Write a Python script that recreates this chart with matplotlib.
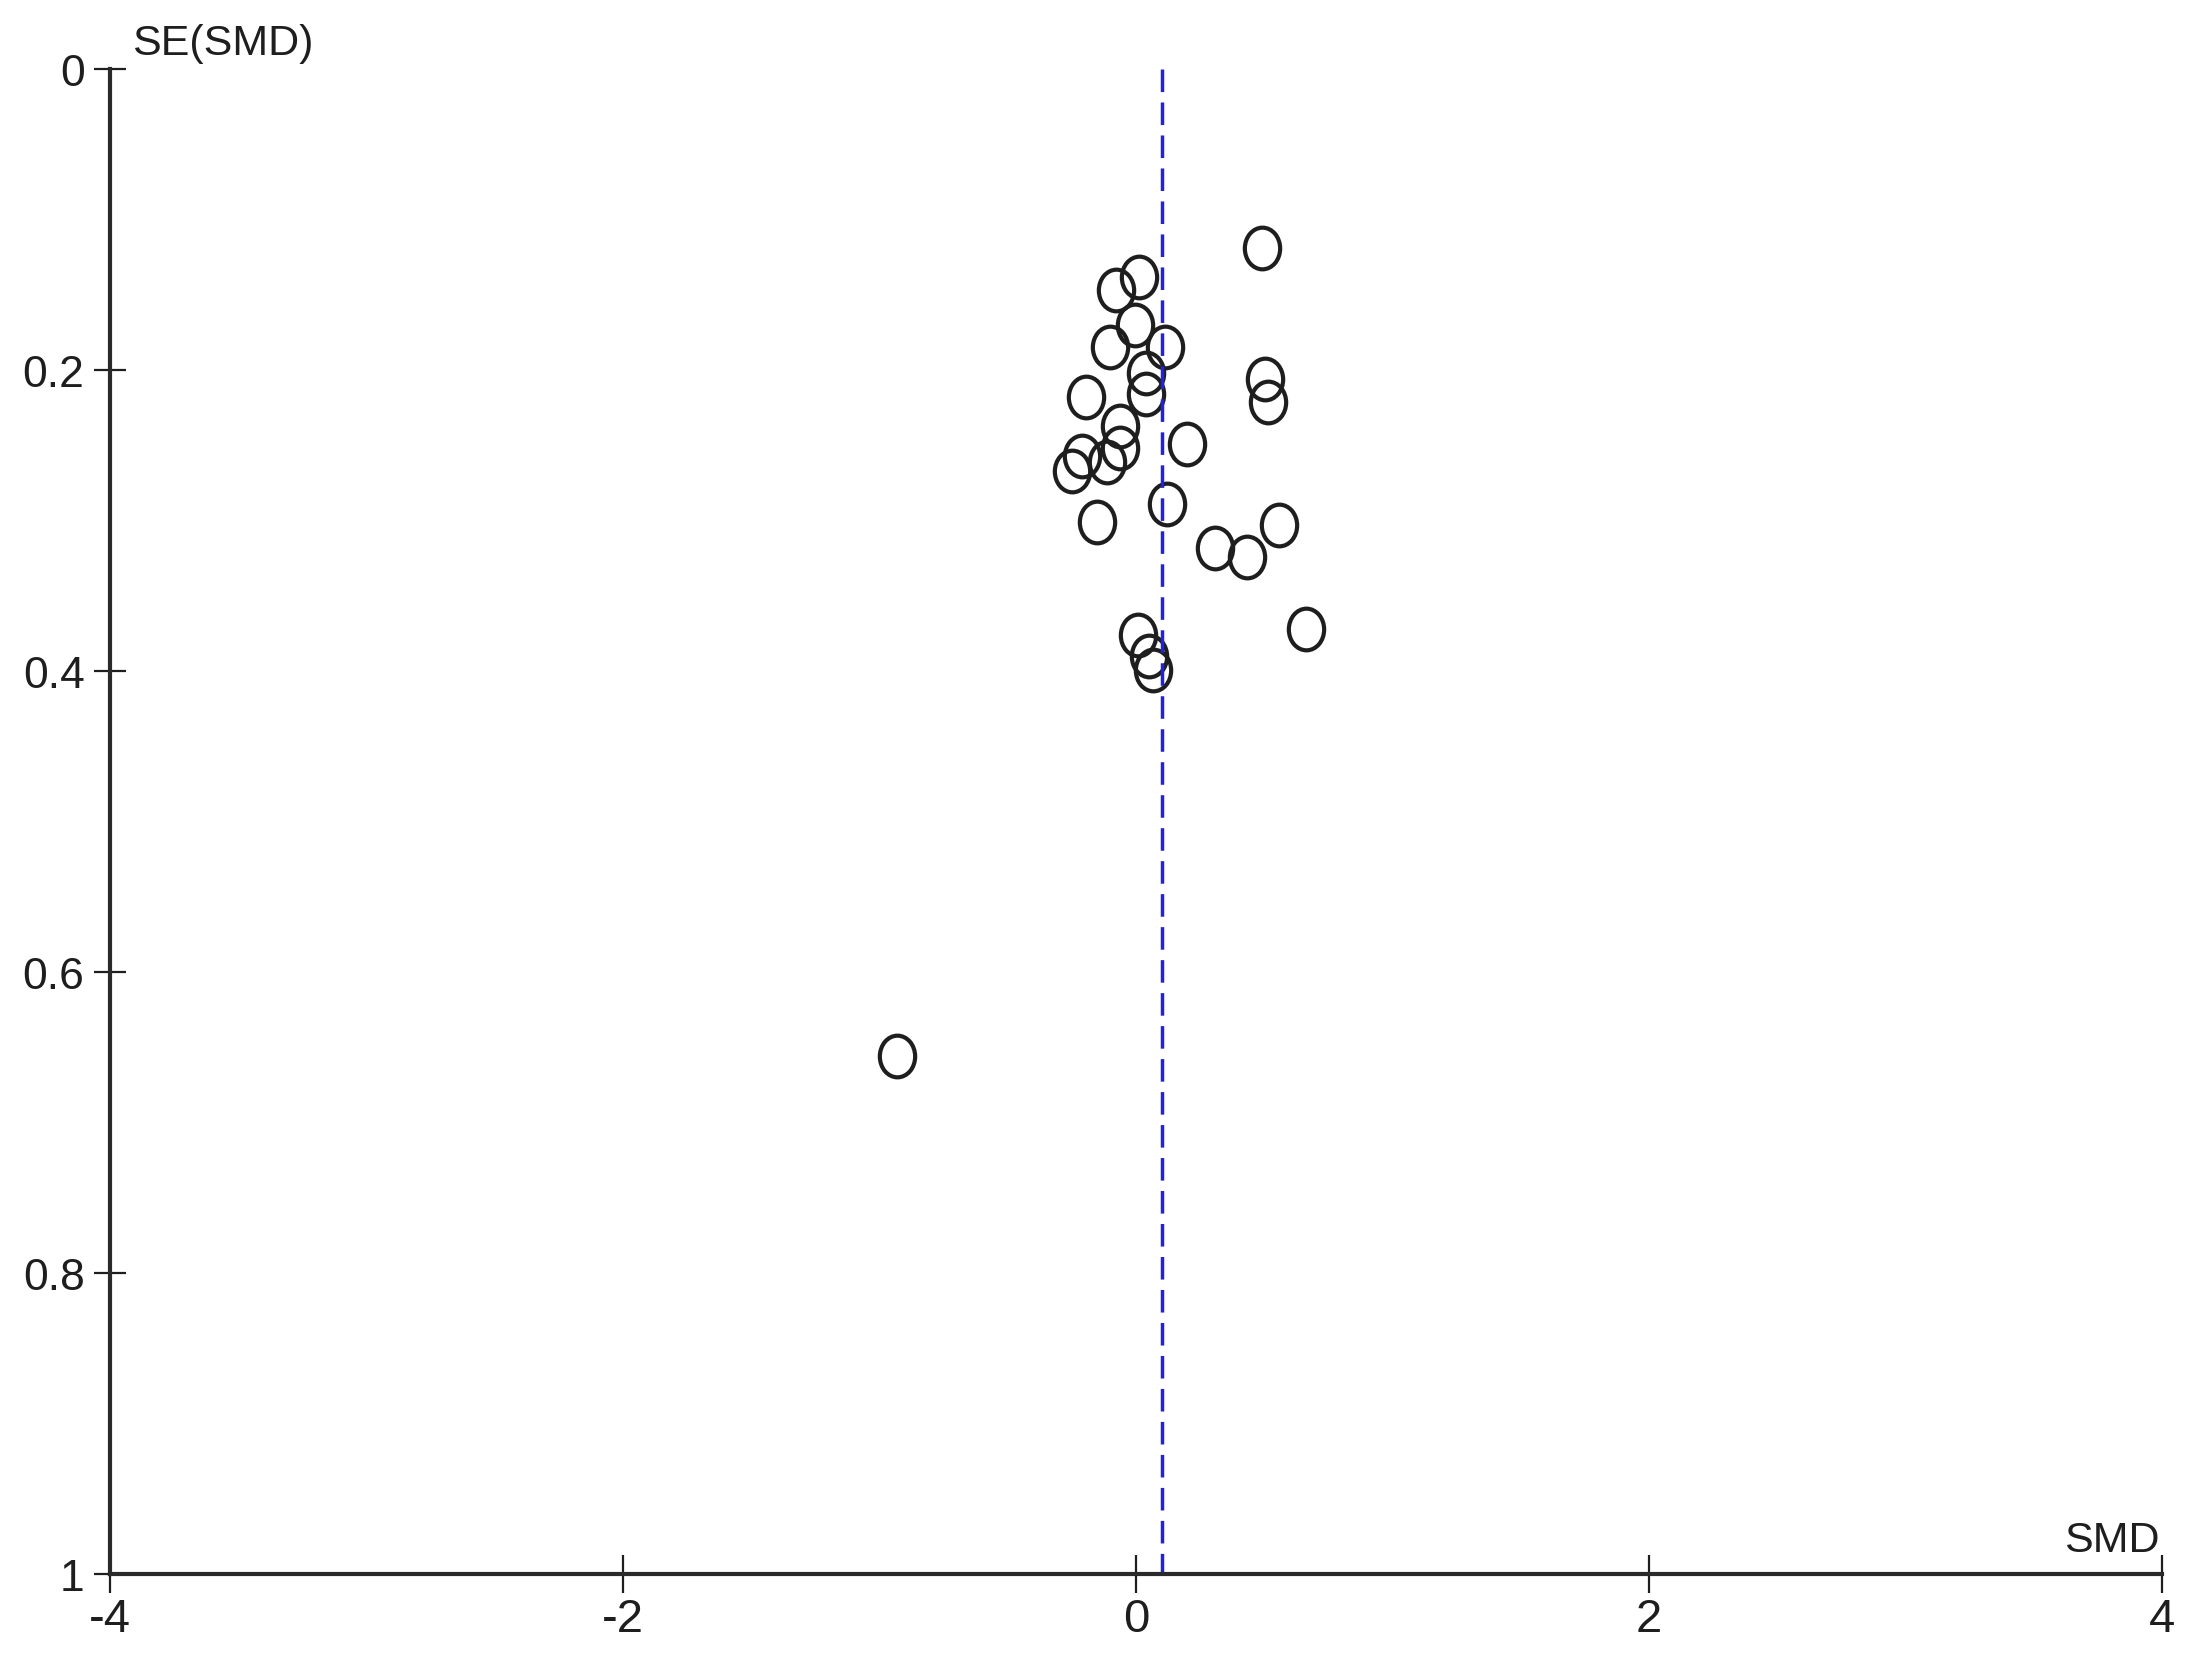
import matplotlib
matplotlib.use("Agg")
import matplotlib.pyplot as plt
import numpy as np
from matplotlib.path import Path
from matplotlib.transforms import Affine2D

# funnel plot: SMD vs its standard error
smd = [0.49, 0.013, -0.078, -0.004, -0.10, 0.113, 0.039, 0.039, -0.193,
       0.503, 0.515, -0.062, -0.062, -0.212, -0.25, -0.114, 0.197, 0.122,
       -0.153, 0.308, 0.431, 0.558, 0.662, 0.007, 0.052, 0.067, -0.932]
se = [0.119, 0.138, 0.147, 0.170, 0.185, 0.185, 0.202, 0.216, 0.218,
      0.206, 0.221, 0.237, 0.252, 0.257, 0.267, 0.261, 0.249, 0.289,
      0.301, 0.318, 0.324, 0.303, 0.372, 0.376, 0.390, 0.399, 0.656]
pooled_smd = 0.102

x_ticks = [-4, -2, 0, 2, 4]
y_ticks = [0, 0.2, 0.4, 0.6, 0.8, 1]
y_ticklabels = ["0", "0.2", "0.4", "0.6", "0.8", "1"]

plt.rcParams['font.family'] = ['Liberation Sans', 'DejaVu Sans']

fig = plt.figure(figsize=(22.02, 16.65), dpi=100)
ax = fig.add_axes([0.04973, 0.05405, 0.93233, 0.90390])

# slightly tall open circles like the original
oval = Path.unit_circle().transformed(Affine2D().scale(1.0, 1.18))
ax.plot(smd, se, linestyle="none", marker=oval, markersize=30,
        markerfacecolor="none", markeredgecolor="#1e1e1e", markeredgewidth=3.0)

ax.plot([pooled_smd, pooled_smd], [0, 1], color="#2222dd", linewidth=2.5,
        dashes=(6.5, 3))

ax.set_xlim(-4, 4)
ax.set_ylim(1, 0)
ax.set_xticks(x_ticks)
ax.set_xticklabels([str(t) for t in x_ticks])
ax.set_yticks(y_ticks)
ax.set_yticklabels(y_ticklabels)

for s in ["top", "right"]:
    ax.spines[s].set_visible(False)
for s in ["left", "bottom"]:
    ax.spines[s].set_linewidth(3.0)
    ax.spines[s].set_color("#2a2a2a")

ax.tick_params(axis="y", direction="inout", length=23, width=1.6,
               color="#1e1e1e", labelsize=32, pad=6.5, labelcolor="#1e1e1e")
ax.tick_params(axis="x", direction="inout", length=27, width=1.6,
               color="#1e1e1e", labelsize=34, pad=3, labelcolor="#1e1e1e")

fig.text(132 / 2202, 1 - 55 / 1665, "SE(SMD)", fontsize=31, color="#1e1e1e",
         va="baseline", ha="left")
fig.text(2160 / 2202, 1 - 1552 / 1665, "SMD", fontsize=31, color="#1e1e1e",
         va="baseline", ha="right")

fig.savefig("out.png", dpi=100)
